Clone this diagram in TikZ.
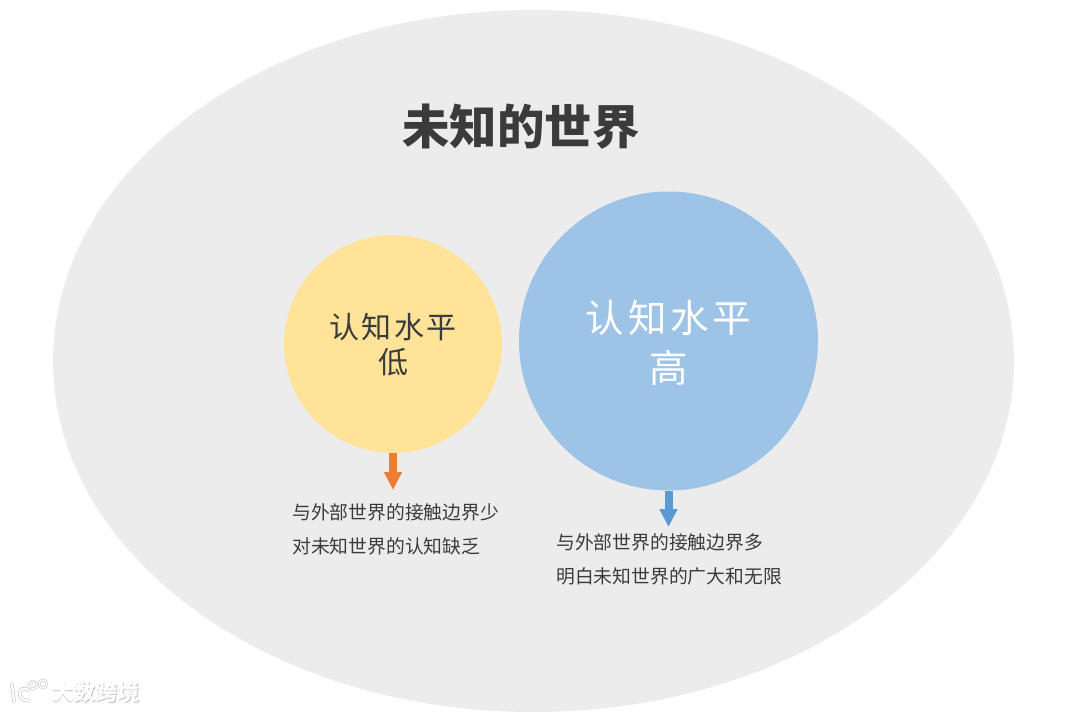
\documentclass[tikz,border=0pt]{standalone}
\usepackage{fontspec}
\usepackage{xcolor}
\usetikzlibrary{arrows.meta,shapes.geometric}
\newfontfamily\cjk{Noto Sans CJK SC}
\definecolor{worldgray}{HTML}{ECECEC}
\definecolor{lowyellow}{HTML}{FFE399}
\definecolor{highblue}{HTML}{9DC3E6}
\definecolor{loworange}{HTML}{ED7D31}
\definecolor{higharrow}{HTML}{5B9BD5}
\definecolor{inktext}{HTML}{3B3B3B}
\definecolor{markshade}{HTML}{C4C4C4}

\begin{document}
\begin{tikzpicture}[x=1pt,y=-1pt,font=\cjk,
    levelcircle/.style={circle,inner sep=0pt},
    notetext/.style={anchor=west,align=left,inner sep=0pt,text=inktext,font={\cjk\fontsize{18.8}{34}\selectfont}},
    downarrow/.style={-{Triangle[length=18pt,width=17pt]},line width=8pt},
    marktext/.style={font={\cjk\bfseries\fontsize{22}{22}\selectfont}},
    logoline/.pic={
      \draw[line cap=round,line width=\pgfkeysvalueof{/tikz/logowidth}] (12,684) -- (14,702);
      \draw[line cap=round,line width=\pgfkeysvalueof{/tikz/logowidth}] (29,690) .. controls (18,684) and (15,700) .. (29,701);
      \draw[line width=\pgfkeysvalueof{/tikz/ringwidth}] (33,685) circle[radius=4pt] (43,684) circle[radius=4pt];
    },
    logowidth/.initial=2.2pt, ringwidth/.initial=1.3pt]
  \useasboundingbox (0,0) rectangle (1080,712);
  \node[ellipse,fill=worldgray,minimum width=961pt,minimum height=702pt,inner sep=0pt] (world) at (533.5,361) {};
  \node[text=inktext,font={\cjk\bfseries\fontsize{47.4}{47.4}\selectfont}] (title) at (521,127) {未知的世界};
  \node[levelcircle,fill=lowyellow,minimum size=218pt] (low) at (393,344) {};
  \node[levelcircle,fill=highblue,minimum size=299pt] (high) at (668.5,341) {};
  \node[align=center,text=inktext,font={\cjk\fontsize{30}{35}\selectfont\addfontfeature{LetterSpace=8}}] (lowlabel) at (393,345) {认知水平\\低};
  \node[align=center,text=white,font={\cjk\fontsize{38.5}{50}\selectfont\addfontfeature{LetterSpace=10}}] (highlabel) at (668.5,343) {认知水平\\高};
  \coordinate (lowend) at (393,490);
  \coordinate (highend) at (668.5,527);
  \draw[downarrow,loworange] (low.south) -- (lowend);
  \draw[downarrow,higharrow] (high.south) -- (highend);
  \node[notetext] (lownote) at (292,529) {与外部世界的接触边界少\\对未知世界的认知缺乏};
  \node[notetext] (highnote) at (556,559) {与外部世界的接触边界多\\明白未知世界的广大和无限};
  % watermark
  \pic[markshade,logowidth=3.5pt,ringwidth=2.4pt] {logoline};
  \pic[white] {logoline};
  \node[marktext,text=markshade] (markshadow) at (96.8,692.8) {大数跨境};
  \node[marktext,text=white] (mark) at (96,692) {大数跨境};
\end{tikzpicture}
\end{document}
